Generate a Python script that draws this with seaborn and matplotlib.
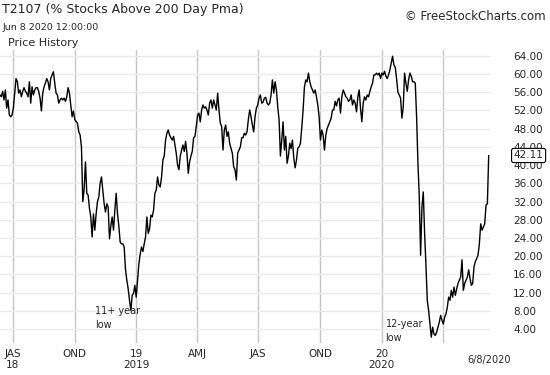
import pandas as pd
import seaborn as sns
import matplotlib.pyplot as plt

# T2107: % of stocks above their 200-day moving average
# mid Jun 2018 - mid Aug 2018
pct_a = [55.4, 55, 56.2, 54.3, 56.5, 52.5, 54.3, 51, 50.6, 51, 52.5, 55.8, 59, 58.3, 55.8,
         56.5, 55, 56.2, 57, 56.2, 55.8, 55, 58.3, 53.6, 57.2, 55.4, 56.5, 57, 57, 56.2,
         54.7, 51.9, 55.8, 57.2, 58, 59, 58.3, 56.5, 59, 59.8, 60.5, 58, 55.8, 55.4, 53.6,
         54.3, 54.7, 54.3, 54.7, 54, 55, 57, 55.8, 53.2, 50.6, 51.9, 50, 49.6, 49.2, 47.3,
         46.6]
# Oct 2018 sell-off to the Dec 2018 low
pct_b = [44, 32, 34.5, 40.7, 33.8, 33.4, 30.5, 28.6, 24.2, 29.3, 25.7, 29.3, 32, 33, 36,
         37.4, 34.5, 31.5, 29.7, 31.5, 30.8, 23.8, 26.6, 28.6, 25.7, 30.1, 33.8, 29.3, 26.6,
         23.1, 22.7, 22.7, 22, 17, 14.7, 12.8, 10.3, 8.1, 11.4, 11.8, 13.6, 11, 14.7, 18.3,
         20.5, 22, 21, 22.7, 24.2, 28.6, 25, 26, 29, 28.6, 30.1, 33.8, 34.5, 37.4, 35.6, 35.2]
# Feb 2019 - Jun 2019
pct_c = [37.4, 41.1, 42, 45.5, 47, 47.7, 46.6, 46, 45.5, 46.3, 44.4, 42.6, 40, 39, 42,
         43.3, 44.4, 43, 45.2, 42.6, 38.2, 40.7, 42, 43, 46, 46.3, 48.5, 51, 51.4, 49.5,
         52.1, 53.2, 52.5, 52.8, 52.1, 51, 53.6, 54.3, 52.5, 54.3, 53.2, 52.1, 55.8, 52.1,
         49.2, 48.5, 43.3, 47.7, 48.8, 46.3, 47.3, 44.8, 43.7, 42.6, 39.6, 39, 36.7, 42.6,
         43.3]
# Jun 2019 - Oct 2019
pct_d = [44, 46, 46, 47, 46.6, 47.3, 50, 52.1, 50.6, 48.8, 47.3, 50.6, 52.5, 53.2, 54.7,
         55.4, 53.6, 53.8, 54.7, 54.9, 53.6, 53.2, 53.6, 55.4, 58.7, 55.8, 58.3, 56.5, 52.8,
         50, 42, 45.5, 49.5, 43.3, 46.3, 40.4, 42, 44.8, 43.6, 45.5, 41.6, 39.4, 41, 43.7,
         44, 44.8, 48.2, 52.1, 57.2, 58.7, 58.3, 60.2, 58.3, 57.2, 56.5, 55.8, 56.5, 55,
         53.2, 50.6]
# Oct 2019 - Feb 2020
pct_e = [45.5, 47.7, 46.6, 43.3, 46.6, 48, 48.8, 49.5, 50.3, 52.1, 52.1, 54, 53, 54.3,
         54.7, 51.4, 55, 56.5, 55.8, 55, 54.7, 54, 54.3, 55.4, 53.2, 54.3, 53.6, 51.7, 55,
         56.5, 52.5, 49.5, 53.6, 55, 54.3, 55.4, 55, 56.2, 57.2, 58, 59.8, 59.8, 60.2, 59.8,
         60.2, 59, 60.2, 59.8, 60.6, 59.5, 59, 59.8, 60.9, 62.4, 63.9, 62, 61.5, 59, 56,
         55.4]
# Feb 2020 crash and rebound to Jun 8 2020
pct_f = [54.7, 50.3, 52.8, 60.2, 58, 56.2, 58.7, 60.2, 59.5, 58.3, 58.3, 58, 50.6, 40.4,
         33, 20.2, 30.8, 34.1, 25, 18, 10.3, 8.1, 5.1, 2.2, 4.4, 2.9, 2.6, 3.3, 4.4, 5.5, 7,
         5.9, 5.1, 6.6, 7.3, 8.8, 11, 10.3, 12.5, 11, 13.2, 11.4, 12.8, 14, 14.7, 15.4, 19.2,
         12.5, 14, 14.7, 15.4, 17, 15.1, 13.6, 14, 17.7, 18.8, 19.5, 20.2, 22.7, 27.1, 25.7,
         26.4, 27.1, 31.2, 31.5, 42.11]

first_date = '2018-06-12'
last_date = '2020-06-08'

quarter_starts = ['2018-07-01', '2018-10-01', '2019-01-01', '2019-04-01',
                  '2019-07-01', '2019-10-01', '2020-01-01', '2020-04-01']
quarter_labels = ['JAS\n18', 'OND', '19\n2019', 'AMJ', 'JAS', 'OND', '20\n2020', '']
y_ticks = list(range(4, 65, 4))

values = pct_a + pct_b + pct_c + pct_d + pct_e + pct_f
dates = pd.date_range(first_date, last_date, periods=len(values))
df = pd.DataFrame({'date': dates, 'pct': values})

sns.set_style('white')
plt.rcParams['font.family'] = ['DejaVu Sans']

fig = plt.figure(figsize=(5.5, 3.75), dpi=100)
ax = fig.add_axes([0, 0.085, 0.891, 0.782])
sns.lineplot(data=df, x='date', y='pct', ax=ax, color='black', lw=1.0)

ax.set_xlim(dates[0], pd.Timestamp(last_date) + pd.Timedelta(days=2))
ax.set_ylim(0.9, 65.3)
ax.set_xlabel('')
ax.set_ylabel('')
for s in ax.spines.values():
    s.set_visible(False)

ax.set_xticks(pd.to_datetime(quarter_starts))
ax.set_xticklabels(quarter_labels)
ax.yaxis.tick_right()
ax.set_yticks(y_ticks)
ax.set_yticklabels([f'{v:.2f}' for v in y_ticks])
ax.tick_params(axis='x', length=0, labelsize=7.5, pad=4)
ax.tick_params(axis='y', length=0, labelsize=7.5, pad=16.5)
for lab in ax.get_yticklabels():
    lab.set_horizontalalignment('left')
ax.yaxis.grid(True, color='#ebebeb', lw=1)
ax.xaxis.grid(True, color='#c6c6c6', lw=1)
ax.set_axisbelow(True)

# last value box on the price scale (drawn over the scale, as in the source chart)
last = values[-1]
ax.annotate(f'{last:.2f}', xy=(1, last), xycoords=('axes fraction', 'data'),
            xytext=(17, 0), textcoords='offset points', ha='left', va='center',
            fontsize=7.5, annotation_clip=False, zorder=5,
            bbox=dict(boxstyle='round,pad=0.2', fc='white', ec='black', lw=0.8))

ax.text(dates[-1], -0.058, '6/8/2020', transform=ax.get_xaxis_transform(),
        ha='center', va='center', fontsize=7)

# lows
low1 = df.iloc[:len(pct_a) + len(pct_b)]['pct'].idxmin()
low2 = df['pct'].idxmin()
ax.annotate('11+ year\nlow', xy=(df.date[low1], df.pct[low1]), xytext=(-26, 3),
            textcoords='offset points', ha='left', va='top', fontsize=7, linespacing=1.45)
ax.annotate('12-year\nlow', xy=(df.date[low2], df.pct[low2]), xytext=(-33, 13),
            textcoords='offset points', ha='left', va='top', fontsize=7, linespacing=1.45)

fig.text(0.004, 1 - 10 / 375, 'T2107 (% Stocks Above 200 Day Pma)', fontsize=9, va='center')
fig.text(0.004, 1 - 27 / 375, 'Jun 8 2020 12:00:00', fontsize=6.8, va='center')
fig.text(0.015, 1 - 43 / 375, 'Price History', fontsize=8, va='center')
fig.text(0.992, 1 - 17 / 375, '\u00a9 FreeStockCharts.com', fontsize=8.5, va='center', ha='right')

fig.savefig('out.png', dpi=100)
